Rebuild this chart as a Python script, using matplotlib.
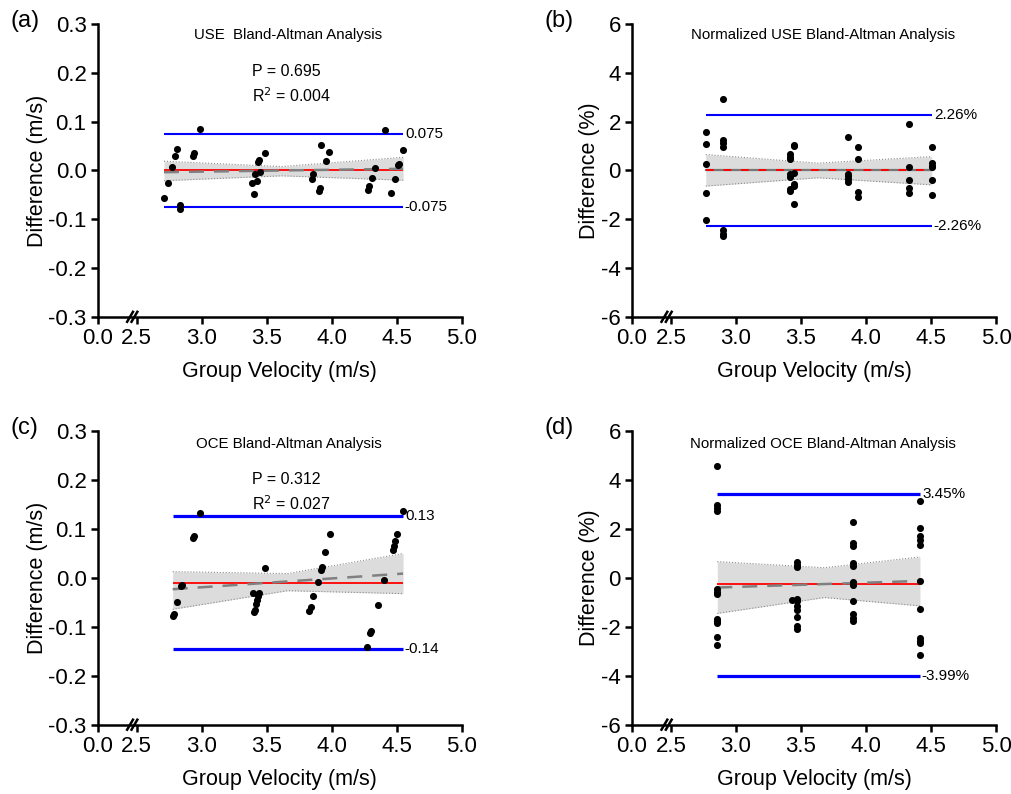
import numpy as np
import matplotlib
matplotlib.use("Agg")
import matplotlib.pyplot as plt

plt.rcParams['font.family'] = ['Liberation Sans', 'DejaVu Sans']
plt.rcParams['axes.unicode_minus'] = False

# ---- data ----
# (a) USE, difference in m/s
use_x = [2.71, 2.744, 2.774, 2.795, 2.81, 2.83, 2.83, 2.93, 2.94, 2.987,
         3.39, 3.40, 3.41, 3.425, 3.43, 3.44, 3.45, 3.487,
         3.85, 3.86, 3.90, 3.91, 3.92, 3.96, 3.98,
         4.28, 4.29, 4.31, 4.33, 4.41, 4.46, 4.49, 4.51, 4.52, 4.55]
use_d = [-0.056, -0.026, 0.0075, 0.030, 0.043, -0.070, -0.079, 0.030, 0.036, 0.084,
         -0.026, -0.048, -0.008, -0.021, 0.017, 0.022, -0.004, 0.036,
         -0.018, -0.007, -0.042, -0.036, 0.053, 0.019, 0.038,
         -0.040, -0.031, -0.015, 0.005, 0.082, -0.046, -0.018, 0.012, 0.014, 0.042]

# (b) USE normalized, difference in %
nuse_x = [2.767] * 5 + [2.90] * 7 + [3.415] * 7 + [3.446] * 6 + [3.86] * 5 + [3.94] * 4 \
    + [4.33] * 5 + [4.505] * 6
nuse_d = [1.57, 1.09, 0.25, -0.93, -2.02,
          2.92, 1.26, 1.12, 0.96, -2.43, -2.59, -2.70,
          0.66, 0.55, 0.49, -0.16, -0.25, -0.75, -0.85,
          1.06, 1.00, -0.10, -0.57, -0.62, -1.39,
          1.37, -0.14, -0.23, -0.34, -0.48,
          0.96, 0.49, -0.89, -1.09,
          1.91, 0.14, -0.41, -0.72, -0.93,
          0.96, 0.30, 0.20, 0.14, -0.41, -1.02]

# (c) OCE, difference in m/s
oce_x = [2.777, 2.785, 2.808, 2.841, 2.846, 2.936, 2.941, 2.987,
         3.392, 3.40, 3.41, 3.418, 3.428, 3.436, 3.444, 3.49,
         3.828, 3.838, 3.859, 3.892, 3.918, 3.923, 3.949, 3.987,
         4.27, 4.295, 4.30, 4.359, 4.405, 4.469, 4.479, 4.49, 4.50, 4.549]
oce_d = [-0.078, -0.073, -0.050, -0.017, -0.014, 0.082, 0.085, 0.133,
         -0.031, -0.070, -0.065, -0.054, -0.046, -0.037, -0.031, 0.020,
         -0.067, -0.059, -0.037, -0.008, 0.017, 0.022, 0.053, 0.090,
         -0.141, -0.112, -0.108, -0.055, -0.005, 0.058, 0.066, 0.075, 0.090, 0.138]

# (d) OCE normalized, difference in %
noce_x = [2.856] * 12 + [3.428] + [3.467] * 10 + [3.90] * 11 + [4.415] * 11
noce_d = [4.60, 2.99, 2.88, 2.76, -0.45, -0.57, -0.65, -1.66, -1.77, -1.86, -2.41, -2.75,
          -0.88,
          0.64, 0.54, 0.45, -0.86, -0.95, -1.16, -1.29, -1.59, -1.95, -2.07,
          2.31, 1.43, 1.32, 0.61, 0.48, -0.18, -0.27, -0.95, -1.46, -1.63, -1.77,
          3.13, 2.04, 1.73, 1.56, 1.33, -0.11, -1.25, -2.46, -2.59, -2.65, -3.17]

# bias, limits of agreement
bias = [0.0, 0.0, -0.0095, -0.26]
loa_upper = [0.075, 2.26, 0.127, 3.45]
loa_lower = [-0.075, -2.26, -0.145, -3.99]
loa_upper_txt = ['0.075', '2.26%', '0.13', '3.45%']
loa_lower_txt = ['-0.075', '-2.26%', '-0.14', '-3.99%']

# regression line (ends) and its 95% band, read at left / middle / right
band_x = [[2.71, 3.615, 4.55], [2.767, 3.63, 4.505], [2.777, 3.66, 4.549], [2.856, 3.68, 4.415]]
band_hi = [[0.019, 0.008, 0.027], [0.655, 0.30, 0.57], [0.013, 0.009, 0.050], [0.67, 0.42, 0.86]]
band_lo = [[-0.021, -0.011, -0.020], [-0.64, -0.30, -0.59], [-0.064, -0.026, -0.032], [-1.45, -0.80, -1.14]]
fit_ends = [[-0.0035, 0.0035], [0.0, 0.0], [-0.023, 0.009], [-0.39, -0.12]]

titles = ['USE  Bland-Altman Analysis', 'Normalized USE Bland-Altman Analysis',
          'OCE Bland-Altman Analysis', 'Normalized OCE Bland-Altman Analysis']
stats_txt = ['P = 0.695\nR$^2$ = 0.004', None, 'P = 0.312\nR$^2$ = 0.027', None]
letters = ['(a)', '(b)', '(c)', '(d)']
ylabels = ['Difference (m/s)', 'Difference (%)', 'Difference (m/s)', 'Difference (%)']
yticks_ms = [-0.3, -0.2, -0.1, 0.0, 0.1, 0.2, 0.3]
yticks_pct = [-6, -4, -2, 0, 2, 4, 6]
xticks = [0.0, 2.5, 3.0, 3.5, 4.0, 4.5, 5.0]


# broken x axis: 0 - 2.5 squeezed into a short stub
def fwd(x):
    x = np.asarray(x, dtype=float)
    return np.where(x < 2.5, 2.5 - (2.5 - x) * 0.12, x)


def inv(y):
    y = np.asarray(y, dtype=float)
    return np.where(y < 2.5, 2.5 - (2.5 - y) / 0.12, y)


def draw_panel(ax, x, d, i):
    x0, x1 = min(x), max(x)
    bx = band_x[i]

    # confidence band of the regression
    ax.fill_between(bx, band_lo[i], band_hi[i], color='#dcdcdc', lw=0, zorder=1)
    ax.plot(bx, band_hi[i], color='#8c8c8c', lw=0.8, ls=':', zorder=2)
    ax.plot(bx, band_lo[i], color='#8c8c8c', lw=0.8, ls=':', zorder=2)

    # limits of agreement and bias
    lw_loa = 2.3 if i >= 2 else 1.5
    ax.hlines([loa_upper[i], loa_lower[i]], x0, x1, color='#0000ff', lw=lw_loa, zorder=3)
    fx = [bx[0], bx[-1]]
    if i == 1:
        ax.plot(fx, fit_ends[i], color='#777777', lw=1.6, zorder=3)
        ax.hlines(bias[i], x0, x1, color='#ff0000', lw=1.4, linestyles=(0, (4, 5)), zorder=4)
    else:
        ax.hlines(bias[i], x0, x1, color='#ff0000', lw=1.3, zorder=3)
        ax.plot(fx, fit_ends[i], color='#808080', lw=1.8, ls=(0, (6, 4)), zorder=4)

    ax.scatter(x, d, s=26, color='black', zorder=5, linewidths=0)

    ax.text(x1 + 0.02, loa_upper[i], loa_upper_txt[i], fontsize=11, va='center', ha='left')
    ax.text(x1 + 0.01, loa_lower[i], loa_lower_txt[i], fontsize=11, va='center', ha='left')


fig = plt.figure(figsize=(10.12, 7.94), dpi=100)
positions = [[0.0965, 0.601, 0.3597, 0.3686], [0.6245, 0.601, 0.3597, 0.3686],
             [0.0965, 0.0873, 0.3597, 0.3695], [0.6245, 0.0873, 0.3597, 0.3695]]
xs_all = [use_x, nuse_x, oce_x, noce_x]
ds_all = [use_d, nuse_d, oce_d, noce_d]
ylab_x = [-0.137, -0.089, -0.137, -0.089]
title_y = [0.962, 0.962, 0.958, 0.958]
stats_y = [0.793, 0.793, 0.791, 0.791]

for i in range(4):
    ax = fig.add_axes(positions[i])
    ax.set_xscale('function', functions=(fwd, inv))
    draw_panel(ax, xs_all[i], ds_all[i], i)

    ax.set_xlim(0, 5)
    ax.set_xticks(xticks)
    ax.set_xticklabels(['%.1f' % t for t in xticks])
    if i % 2 == 0:
        ax.set_ylim(-0.3, 0.3)
        ax.set_yticks(yticks_ms)
        ax.set_yticklabels(['%.1f' % t for t in yticks_ms])
    else:
        ax.set_ylim(-6, 6)
        ax.set_yticks(yticks_pct)
        ax.set_yticklabels([str(t) for t in yticks_pct])

    for side in ['top', 'right']:
        ax.spines[side].set_visible(False)
    for side in ['left', 'bottom']:
        ax.spines[side].set_linewidth(1.8)
    ax.tick_params(width=1.8, length=5, labelsize=16, direction='out', pad=3)

    ax.set_xlabel('Group Velocity (m/s)', fontsize=15.5)
    ax.xaxis.set_label_coords(0.5, -0.152)
    ax.set_ylabel(ylabels[i], fontsize=15.5)
    ax.yaxis.set_label_coords(ylab_x[i], 0.5)

    ax.text(0.524, title_y[i], titles[i], transform=ax.transAxes, fontsize=10.8,
            ha='center', va='center')
    if stats_txt[i]:
        ax.text(0.425, stats_y[i], stats_txt[i], transform=ax.transAxes, fontsize=11.5,
                ha='left', va='center', linespacing=1.5)

    # axis break marks
    for cx in [0.089, 0.101]:
        ax.plot([cx - 0.008, cx + 0.008], [-0.017, 0.017], transform=ax.transAxes,
                color='black', lw=1.8, clip_on=False, zorder=10)

    ax.text(-0.2, 1.01, letters[i], transform=ax.transAxes, fontsize=17, ha='center', va='center')

fig.savefig('out.png', dpi=100)
